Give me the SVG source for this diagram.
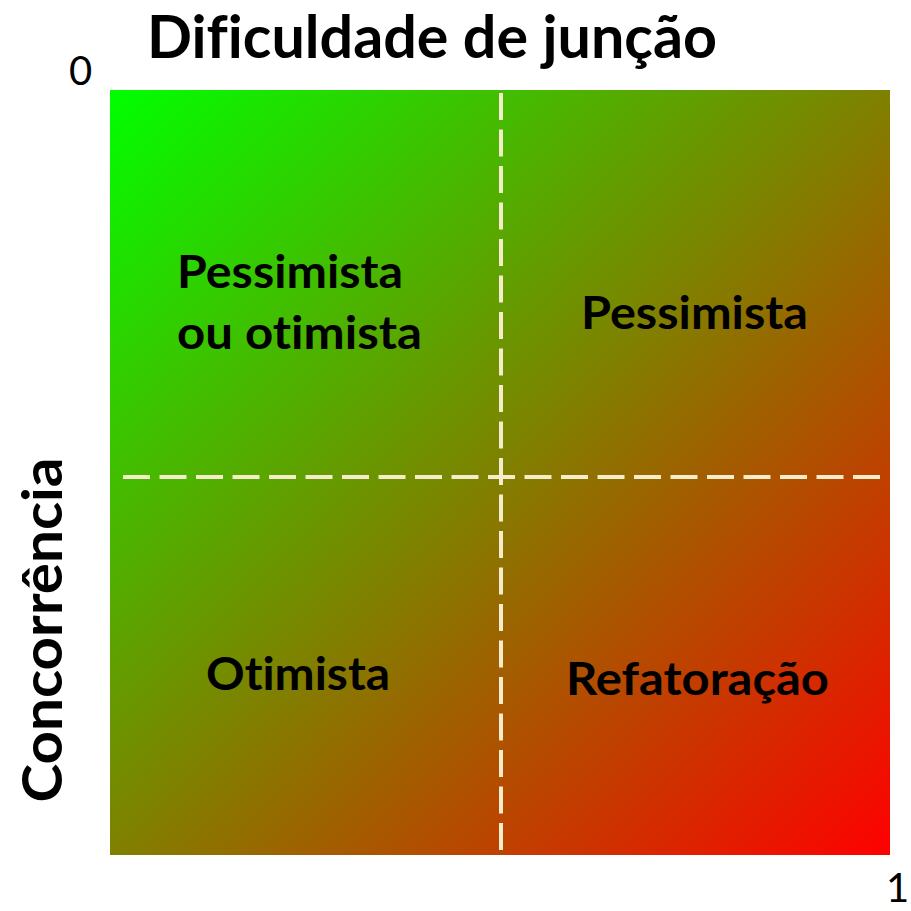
<svg xmlns="http://www.w3.org/2000/svg" width="911" height="911" viewBox="0 0 911 911">
<style>
text{font-variant-ligatures:none;font-feature-settings:"liga" 0,"clig" 0,"dlig" 0}
.lbl{font-family:Lato,"Open Sans","Liberation Sans",sans-serif;font-weight:bold;fill:#000}
.num{font-family:Lato,"Open Sans","Liberation Sans",sans-serif;font-weight:normal;fill:#000;font-size:40px}
.dash{stroke:#f4eccb;stroke-width:4;stroke-dasharray:27 9.5;fill:none}
</style>
<defs>
<linearGradient id="g" x1="0" y1="0" x2="1" y2="1">
<stop offset="0" stop-color="#00ff00"/>
<stop offset="0.5" stop-color="#808000"/>
<stop offset="1" stop-color="#ff0000"/>
</linearGradient>
</defs>
<rect width="911" height="911" fill="#fff"/>
<g id="plane">
<rect x="110" y="90" width="780" height="765" fill="url(#g)"/>
</g>
<g id="connectors">
<line class="dash" x1="123" y1="477" x2="880" y2="477"/>
<line class="dash" x1="501" y1="93" x2="501" y2="852"/>
</g>
<g id="title"><text class="lbl" x="147" y="58" font-size="59" textLength="570" lengthAdjust="spacingAndGlyphs">Dificuldade de junção</text></g>
<g id="axis-y"><text class="lbl" font-size="56" text-anchor="middle" transform="translate(62,630) rotate(-90)" textLength="345" lengthAdjust="spacingAndGlyphs">Concorrência</text></g>
<g id="zero"><text class="num" x="69" y="85">0</text></g>
<g id="one"><text class="num" x="886" y="902">1</text></g>
<g id="q1"><text class="lbl" font-size="45"><tspan x="177" y="288" textLength="226" lengthAdjust="spacingAndGlyphs">Pessimista</tspan><tspan x="177" y="349" textLength="245" lengthAdjust="spacingAndGlyphs">ou otimista</tspan></text></g>
<g id="q2"><text class="lbl" font-size="45" x="581" y="329" textLength="227" lengthAdjust="spacingAndGlyphs">Pessimista</text></g>
<g id="q3"><text class="lbl" font-size="45" x="206" y="690" textLength="184" lengthAdjust="spacingAndGlyphs">Otimista</text></g>
<g id="q4"><text class="lbl" font-size="45" x="566" y="695" textLength="263" lengthAdjust="spacingAndGlyphs">Refatoração</text></g>
</svg>
